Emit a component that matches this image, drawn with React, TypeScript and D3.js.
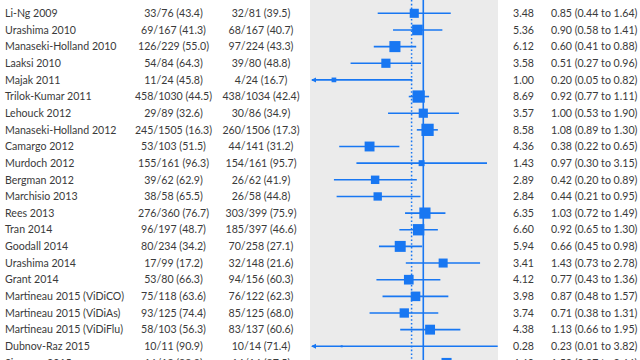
import React from "react";
import * as d3 from "d3";

const studies = [
  "Li-Ng 2009", "Urashima 2010", "Manaseki-Holland 2010", "Laaksi 2010", "Majak 2011",
  "Trilok-Kumar 2011", "Lehouck 2012", "Manaseki-Holland 2012", "Camargo 2012", "Murdoch 2012",
  "Bergman 2012", "Marchisio 2013", "Rees 2013", "Tran 2014", "Goodall 2014", "Urashima 2014",
  "Grant 2014", "Martineau 2015 (ViDiCO)", "Martineau 2015 (ViDiAs)", "Martineau 2015 (ViDiFlu)",
  "Dubnov-Raz 2015", "Simpson 2015",
];
const interventionText = [
  "33/76 (43.4)", "69/167 (41.3)", "126/229 (55.0)", "54/84 (64.3)", "11/24 (45.8)",
  "458/1030 (44.5)", "29/89 (32.6)", "245/1505 (16.3)", "53/103 (51.5)", "155/161 (96.3)",
  "39/62 (62.9)", "38/58 (65.5)", "276/360 (76.7)", "96/197 (48.7)", "80/234 (34.2)",
  "17/99 (17.2)", "53/80 (66.3)", "75/118 (63.6)", "93/125 (74.4)", "58/103 (56.3)",
  "10/11 (90.9)", "16/18 (88.9)",
];
const controlText = [
  "32/81 (39.5)", "68/167 (40.7)", "97/224 (43.3)", "39/80 (48.8)", "4/24 (16.7)",
  "438/1034 (42.4)", "30/86 (34.9)", "260/1506 (17.3)", "44/141 (31.2)", "154/161 (95.7)",
  "26/62 (41.9)", "26/58 (44.8)", "303/399 (75.9)", "185/397 (46.6)", "70/258 (27.1)",
  "32/148 (21.6)", "94/156 (60.3)", "76/122 (62.3)", "85/125 (68.0)", "83/137 (60.6)",
  "10/14 (71.4)", "14/16 (87.5)",
];
const weights = [
  3.48, 5.36, 6.12, 3.58, 1.0, 8.69, 3.57, 8.58, 4.36, 1.43, 2.89, 2.84, 6.35, 6.6, 5.94,
  3.41, 4.12, 3.98, 3.74, 4.38, 0.28, 4.6,
];
const oddsRatio = [
  0.85, 0.9, 0.6, 0.51, 0.2, 0.92, 1.0, 1.08, 0.38, 0.97, 0.42, 0.44, 1.03, 0.92, 0.66,
  1.43, 0.77, 0.87, 0.71, 1.13, 0.23, 1.52,
];
const ciLow = [
  0.44, 0.58, 0.41, 0.27, 0.05, 0.77, 0.53, 0.89, 0.22, 0.3, 0.2, 0.21, 0.72, 0.65, 0.45,
  0.73, 0.43, 0.48, 0.38, 0.66, 0.01, 0.87,
];
const ciHigh = [
  1.64, 1.41, 0.88, 0.96, 0.82, 1.11, 1.9, 1.3, 0.65, 3.15, 0.89, 0.95, 1.49, 1.3, 0.98,
  2.78, 1.36, 1.57, 1.31, 1.95, 3.82, 2.66,
];
const POOLED = 0.81;
const NULL_VALUE = 1;

const BLUE = "#1877f2";
const TEXT = "#3a3a3a";
const FONT = "Lato, 'Open Sans', sans-serif";
const FS = 10.6;

export default function App() {
  const W = 640, H = 360;
  const panelL = 310, panelR = 498;
  const x = d3.scaleLog().domain([0.13, 3.84]).range([panelL, panelR]);
  const y = d3.scalePoint<string>().domain(studies).range([13.3, 13.3 + 16.65 * (studies.length - 1)]);
  const box = d3.scaleLog().domain([1, 8.69]).range([4.7, 12.3]);
  const [d0, d1] = x.domain();
  const fmtOR = (i: number) => `${oddsRatio[i].toFixed(2)} (${ciLow[i].toFixed(2)} to ${ciHigh[i].toFixed(2)})`;

  return (
    <svg width={W} height={H} style={{ position: "absolute", left: 0, top: 0, background: "#fff" }} fontFamily={FONT}>
      <rect x={panelL} y={0} width={panelR - panelL} height={H} fill="#ebebeb" />
      <line x1={x(NULL_VALUE)} x2={x(NULL_VALUE)} y1={0} y2={H} stroke={BLUE} strokeWidth={1.6} />
      <line x1={x(POOLED)} x2={x(POOLED)} y1={0} y2={H} stroke={BLUE} strokeWidth={1.5} strokeDasharray="1.6,2.2" />
      {studies.map((s, i) => {
        const cy = y(s)!;
        const lo = ciLow[i] < d0 ? panelL + 2 : x(ciLow[i]);
        const hi = ciHigh[i] > d1 ? panelR - 2 : x(ciHigh[i]);
        const side = Math.max(2, box(weights[i]));
        const cx = x(oddsRatio[i]);
        return (
          <g key={s}>
            <text x={5} y={cy} dy="0.35em" fontSize={FS} fill={TEXT}>{s}</text>
            <text x={173.5} y={cy} dy="0.35em" fontSize={FS} fill={TEXT} textAnchor="middle">{interventionText[i]}</text>
            <text x={261} y={cy} dy="0.35em" fontSize={FS} fill={TEXT} textAnchor="middle">{controlText[i]}</text>
            <text x={513} y={cy} dy="0.35em" fontSize={FS} fill={TEXT}>{weights[i].toFixed(2)}</text>
            <text x={551} y={cy} dy="0.35em" fontSize={FS} fill={TEXT}>{fmtOR(i)}</text>
            <line x1={lo} x2={hi} y1={cy} y2={cy} stroke={BLUE} strokeWidth={1.6} />
            {ciLow[i] < d0 && (
              <path d={`M${panelL + 1},${cy} L${panelL + 6},${cy - 2.5} L${panelL + 6},${cy + 2.5} Z`} fill={BLUE} />
            )}
            {ciHigh[i] > d1 && (
              <path d={`M${panelR - 1},${cy} L${panelR - 6},${cy - 2.5} L${panelR - 6},${cy + 2.5} Z`} fill={BLUE} />
            )}
            <rect x={cx - side / 2} y={cy - side / 2} width={side} height={side} fill={BLUE} />
          </g>
        );
      })}
    </svg>
  );
}
